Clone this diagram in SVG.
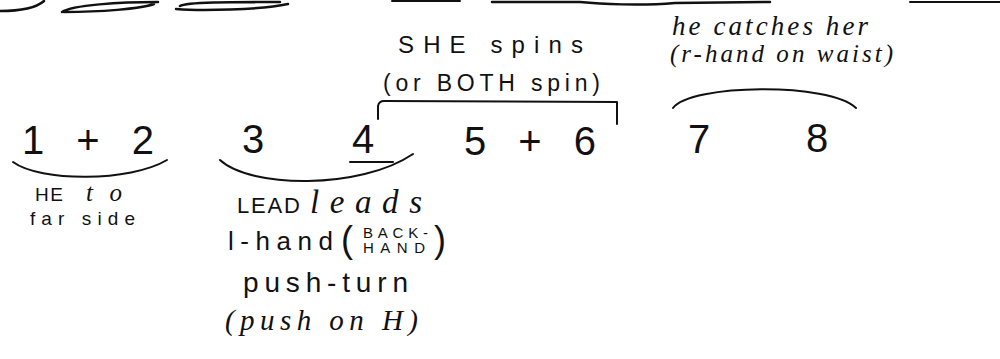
<svg xmlns="http://www.w3.org/2000/svg" width="1000" height="359" viewBox="0 0 1000 359">
<style>
.p{font-family:"Liberation Sans","DejaVu Sans",sans-serif;fill:#111}
.c{font-family:"Liberation Serif","DejaVu Serif",serif;font-style:italic;fill:#111}
.n{font-family:"Liberation Sans","DejaVu Sans",sans-serif;font-size:40px;fill:#111}
.ln{fill:none;stroke:#111;stroke-width:2;stroke-linecap:round;stroke-linejoin:round}
.scr{fill:none;stroke:#111;stroke-width:2.5;stroke-linecap:round}
</style>
<rect width="1000" height="359" fill="#fff"/>
<g id="top-scribbles">
<path class="scr" d="M0,11 C18,11 36,8 44,1"/>
<path class="scr" d="M62,12 C72,5 120,2 158,2 M64,12 C100,12 140,9 154,4"/>
<path class="scr" d="M176,9 C200,11 260,10 288,4 M180,6 C186,2 230,2 280,2"/>
<path class="ln" stroke-width="1.2" d="M392,1 L460,1"/>
<path class="scr" d="M492,2 L580,2 C600,4 640,6 675,3 L770,2"/>
<path class="ln" stroke-width="1.2" d="M910,2 L1000,2"/>
</g>
<g id="connectors">
<path class="ln" d="M13,162 C40,182 130,182 167,160"/>
<path class="ln" d="M220,160 C250,188 360,190 413,154"/>
<path class="ln" d="M350,162 L393,162"/>
<path class="ln" d="M378,119 L378,106 Q379,101 384,101 L617,102 L617,124"/>
<path class="ln" d="M673,108 C690,84 830,82 856,108"/>
</g>
<g id="count-1-2">
<text class="n" x="22" y="154" font-size="46" textLength="132" lengthAdjust="spacing">1 + 2</text>
</g>
<g id="count-3-4">
<text class="n" x="242" y="153">3</text>
<text class="n" x="352" y="153">4</text>
</g>
<g id="count-5-6">
<text class="n" x="464" y="155" textLength="132" lengthAdjust="spacing">5 + 6</text>
</g>
<g id="count-7-8">
<text class="n" x="688" y="153">7</text>
<text class="n" x="806" y="152">8</text>
</g>
<g id="she-spins">
<text class="p" x="398" y="53" font-size="24" textLength="185" lengthAdjust="spacing">SHE spins</text>
<text class="p" x="383" y="91" font-size="23" textLength="217" lengthAdjust="spacing">(or BOTH spin)</text>
</g>
<g id="he-catches">
<text class="c" x="672" y="35" font-size="27" textLength="196" lengthAdjust="spacing">he catches her</text>
<text class="c" x="670" y="62" font-size="25" textLength="223" lengthAdjust="spacing">(r-hand on waist)</text>
</g>
<g id="he-to-far-side">
<text class="p" x="35" y="201" font-size="19" textLength="28" lengthAdjust="spacing">HE</text>
<text class="c" x="86" y="201" font-size="25" textLength="36" lengthAdjust="spacing">to</text>
<text class="p" x="30" y="225" font-size="19" textLength="105" lengthAdjust="spacing">far side</text>
</g>
<g id="lead-leads">
<text class="p" x="237" y="213" font-size="22" textLength="63" lengthAdjust="spacing">LEAD</text>
<text class="c" x="310" y="213" font-size="33" textLength="112" lengthAdjust="spacing">leads</text>
<text class="p" x="228" y="250" font-size="26" textLength="105" lengthAdjust="spacing">l-hand</text>
<text class="p" x="341" y="252" font-size="36" font-weight="300">(</text>
<text class="p" x="363" y="238" font-size="15" textLength="65" lengthAdjust="spacing">BACK-</text>
<text class="p" x="363" y="253" font-size="15" textLength="62" lengthAdjust="spacing">HAND</text>
<text class="p" x="434" y="252" font-size="36" font-weight="300">)</text>
<text class="p" x="243" y="292" font-size="28" textLength="165" lengthAdjust="spacing">push-turn</text>
<text class="c" x="225" y="330" font-size="29" textLength="193" lengthAdjust="spacing">(push on H)</text>
</g>
</svg>
